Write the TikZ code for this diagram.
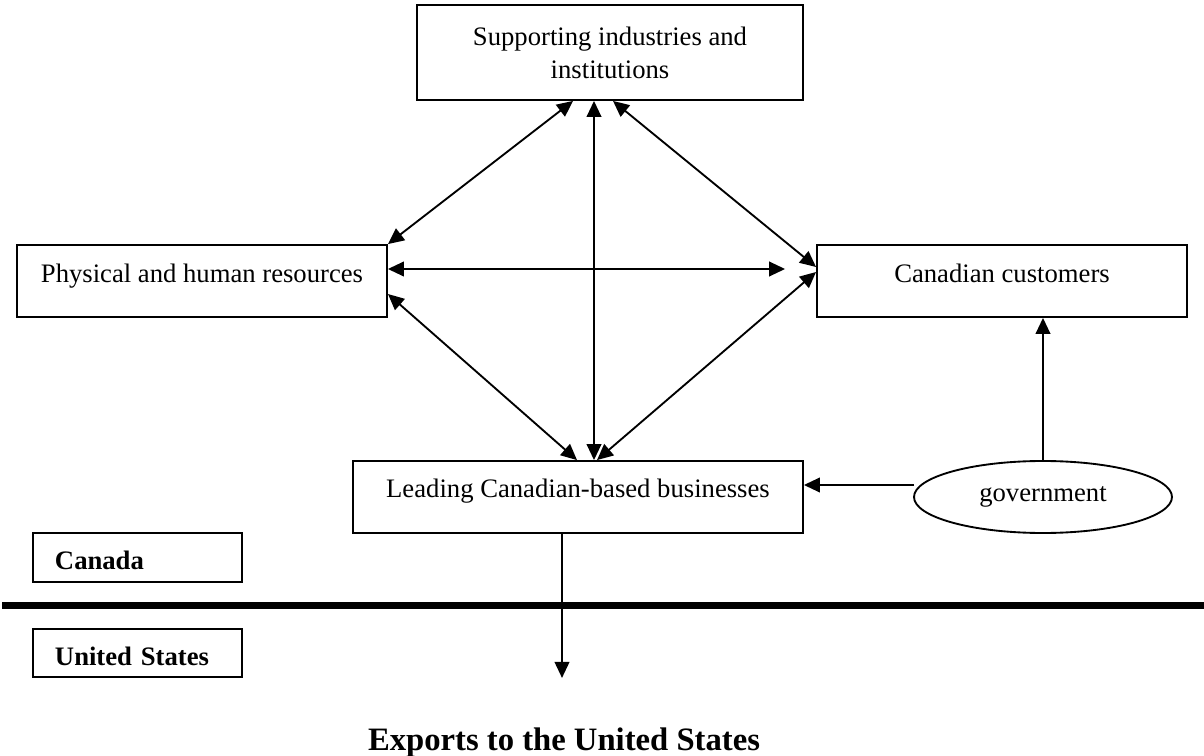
\documentclass[tikz,border=0pt]{standalone}
\usepackage{fontspec}
\setmainfont{Liberation Serif}
\usetikzlibrary{arrows.meta,shapes.geometric,calc}
\begin{document}
\begin{tikzpicture}[x=0.75pt,y=-0.75pt,
  box/.style={draw, line width=1.4pt, inner sep=0pt, font=\fontsize{20}{24.75}\selectfont},
  labelbox/.style={draw, line width=1.4pt, inner ysep=0pt, inner xsep=16.5pt,
    text width=123.75pt, align=left, text height=18pt, text depth=0pt,
    font=\fontsize{20}{24}\selectfont\bfseries},
  tip/.tip={Triangle[length=12pt,width=11pt]},
  link/.style={line width=1.4pt, tip-tip},
  oneway/.style={line width=1.4pt, -tip}]
\useasboundingbox (0,0) rectangle (1204,756);

% the five actors of the diamond
\node[box, minimum width=289.5pt, minimum height=71.25pt, align=center]
  (sup) at (610,52.5) {Supporting industries and\\institutions};
\node[box, minimum width=277.5pt, minimum height=54pt, text height=13.5pt, text depth=12pt]
  (phys) at (202,281) {Physical and human resources};
\node[box, minimum width=277.5pt, minimum height=54pt, text height=13.5pt, text depth=12pt]
  (cust) at (1002,281) {Canadian customers};
\node[box, minimum width=337.5pt, minimum height=54pt, text height=13.5pt, text depth=13.5pt]
  (lead) at (578,497) {Leading Canadian-based businesses};
\node[box, ellipse, minimum width=193.5pt, minimum height=54pt]
  (gov) at (1043,497) {government};

% country labels and the border
\node[labelbox, minimum height=36.75pt] (ca) at (137.5,557.5) {Canada};
\node[labelbox, minimum height=36pt] (us) at (137.5,653) {United States};
\draw[line width=5.25pt] (2,605.5) -- (1204,605.5);

\node[anchor=base, font=\fontsize{24.5}{29}\selectfont\bfseries]
  (exp) at (564,750) {Exports to the United States};

% two-way links
\draw[link] ($(sup.south)+(-37,0)$) -- (phys.north east);
\draw[link] ($(sup.south)+(-16,0)$) -- ($(lead.north)+(16,0)$);
\draw[link] ($(sup.south)+(3,0)$) -- ($(cust.west)+(0,-14)$);
\coordinate (hend) at ($(cust.west)+(-31,-12)$);
\draw[link] ($(phys.east)+(0,-12)$) -- (hend);
\draw[link] ($(phys.east)+(0,13)$) -- ($(lead.north)+(-1,0)$);
\draw[link] ($(cust.west)+(0,-9)$) -- ($(lead.north)+(19,0)$);

% government influence
\draw[oneway] (gov.north) -- (gov.north |- cust.south);
\coordinate (gl) at ($(gov.west)+(1,-12)$);
\draw[oneway] (gl) -- (lead.east |- gl);

% exports across the border
\coordinate (down) at ($(lead.south)+(-16,144)$);
\draw[oneway] ($(lead.south)+(-16,0)$) -- (down);
\end{tikzpicture}
\end{document}
